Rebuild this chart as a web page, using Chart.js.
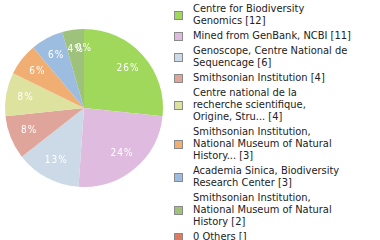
<!DOCTYPE html>
<html>
<head>
<meta charset="utf-8">
<script src="https://cdn.jsdelivr.net/npm/chart.js@4"></script>
<style>
  html, body { margin: 0; padding: 0; background: #fff; }
  body { width: 380px; height: 240px; overflow: hidden; position: relative; }
  #pieBox { position: absolute; left: 0; top: 0; width: 168px; height: 216px; }
  #legend {
    position: absolute; left: 174px; top: 3px; width: 206px;
    font-family: "DejaVu Sans Condensed", "DejaVu Sans", sans-serif; font-stretch: condensed;
    font-size: 11px; line-height: 12px; color: #222;
  }
  .item { display: flex; align-items: center; margin-bottom: 3px; }
  .sw { width: 7px; height: 7px; border: 1px solid #8a8a8a; flex: none; margin-right: 10px; }
  .txt { white-space: pre-line; }
</style>
</head>
<body>
<div id="pieBox"><canvas id="pie"></canvas></div>
<div id="legend"></div>
<script>
// Sequence sources and their record counts
const categories = [
  "Centre for Biodiversity\nGenomics",
  "Mined from GenBank, NCBI",
  "Genoscope, Centre National de\nSequencage",
  "Smithsonian Institution",
  "Centre national de la\nrecherche scientifique,\nOrigine, Stru...",
  "Smithsonian Institution,\nNational Museum of Natural\nHistory...",
  "Academia Sinica, Biodiversity\nResearch Center",
  "Smithsonian Institution,\nNational Museum of Natural\nHistory",
  "0 Others"
];
const counts = [12, 11, 6, 4, 4, 3, 3, 2, 0];
const colors = ["#a0d85c", "#dfbcdf", "#ccd9e6", "#dfa59b", "#dde29e",
                "#f0ae72", "#9dbde0", "#9ec27b", "#e07b62"];

const total = counts.reduce((a, b) => a + b, 0);

// white percentage labels inside each slice
const sliceLabels = {
  id: 'sliceLabels',
  afterDatasetsDraw(chart) {
    const ctx = chart.ctx;
    const meta = chart.getDatasetMeta(0);
    ctx.save();
    ctx.fillStyle = '#fff';
    ctx.font = '10px "DejaVu Sans Condensed", "DejaVu Sans", sans-serif';
    ctx.letterSpacing = '1px';
    ctx.textAlign = 'center';
    ctx.textBaseline = 'middle';
    meta.data.forEach((arc, i) => {
      const p = arc.getProps(['x', 'y', 'startAngle', 'endAngle', 'outerRadius'], true);
      const mid = (p.startAngle + p.endAngle) / 2;
      const r = p.outerRadius * 0.75;
      const pct = Math.floor(counts[i] / total * 100) + '%';
      ctx.fillText(pct, p.x + Math.cos(mid) * r, p.y + Math.sin(mid) * r);
    });
    ctx.restore();
  }
};

new Chart(document.getElementById('pie'), {
  type: 'pie',
  data: {
    labels: categories,
    datasets: [{ data: counts, backgroundColor: colors, borderWidth: 0 }]
  },
  options: {
    responsive: true,
    maintainAspectRatio: false,
    animation: false,
    layout: { padding: 5 },
    plugins: { legend: { display: false }, tooltip: { enabled: false } }
  },
  plugins: [sliceLabels]
});

// legend list beside the pie
const legend = document.getElementById('legend');
categories.forEach((name, i) => {
  const item = document.createElement('div');
  item.className = 'item';
  const sw = document.createElement('div');
  sw.className = 'sw';
  sw.style.background = colors[i];
  const txt = document.createElement('div');
  txt.className = 'txt';
  txt.textContent = name + ' [' + (counts[i] || '') + ']';
  item.appendChild(sw);
  item.appendChild(txt);
  legend.appendChild(item);
});
</script>
</body>
</html>
